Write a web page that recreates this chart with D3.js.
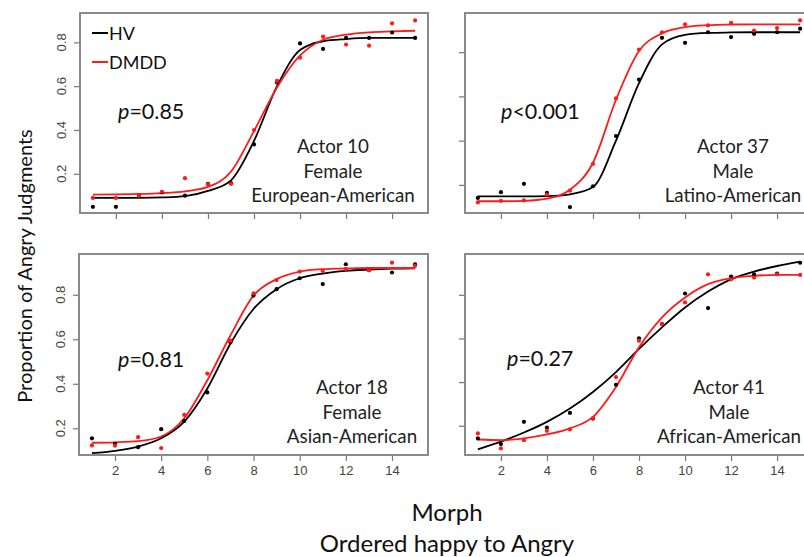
<!DOCTYPE html>
<html>
<head>
<meta charset="utf-8">
<script src="https://cdn.jsdelivr.net/npm/d3@7"></script>
<style>
  body { margin: 0; background: #fff; }
  svg { display: block; font-family: Lato, 'Open Sans', sans-serif; }
  .tick-label { font-family: 'Liberation Sans', Arial, sans-serif; font-size: 13px; fill: #444; }
</style>
</head>
<body>
<div id="chart"></div>
<script>
// Chart data

const morphs = [1, 2, 3, 4, 5, 6, 7, 8, 9, 10, 11, 12, 13, 14, 15]
const xTicks = [2, 4, 6, 8, 10, 12, 14]
const yTicks = [0.2, 0.4, 0.6, 0.8]

// Actor 10 — observed proportions and fitted curves
const hv10 = [0.049, 0.049, 0.10, 0.115, 0.10, 0.154, 0.157, 0.334, 0.617, 0.795, 0.77, 0.82, 0.82, 0.845, 0.82]
const dmdd10 = [0.09, 0.09, 0.10, 0.118, 0.18, 0.152, 0.154, 0.40, 0.624, 0.73, 0.826, 0.79, 0.785, 0.887, 0.90]
const hvFit10 = [0.09, 0.09, 0.09, 0.092, 0.098, 0.122, 0.17, 0.35, 0.60, 0.765, 0.805, 0.815, 0.82, 0.82, 0.82]
const dmddFit10 = [0.105, 0.106, 0.108, 0.112, 0.12, 0.14, 0.21, 0.395, 0.594, 0.74, 0.812, 0.835, 0.846, 0.85, 0.853]

// Actor 37
const hv37 = [0.141, 0.167, 0.205, 0.164, 0.10, 0.194, 0.421, 0.676, 0.865, 0.842, 0.89, 0.868, 0.883, 0.89, 0.906]
const dmdd37 = [0.121, 0.128, 0.13, 0.156, 0.174, 0.295, 0.591, 0.812, 0.89, 0.926, 0.921, 0.932, 0.898, 0.909, 0.944]
const hvFit37 = [0.148, 0.148, 0.148, 0.149, 0.157, 0.19, 0.40, 0.66, 0.835, 0.878, 0.887, 0.889, 0.89, 0.89, 0.89]
const dmddFit37 = [0.126, 0.126, 0.128, 0.138, 0.178, 0.30, 0.585, 0.805, 0.885, 0.913, 0.922, 0.925, 0.926, 0.926, 0.926]

// Actor 18
const hv18 = [0.155, 0.13, 0.115, 0.196, 0.233, 0.361, 0.587, 0.796, 0.825, 0.874, 0.848, 0.937, 0.91, 0.90, 0.937]
const dmdd18 = [0.123, 0.122, 0.16, 0.111, 0.26, 0.446, 0.594, 0.806, 0.866, 0.904, 0.907, 0.915, 0.91, 0.944, 0.93]
const hvFit18 = [0.088, 0.099, 0.118, 0.155, 0.23, 0.379, 0.58, 0.736, 0.825, 0.874, 0.895, 0.907, 0.913, 0.917, 0.919]
const dmddFit18 = [0.135, 0.137, 0.142, 0.163, 0.245, 0.416, 0.617, 0.796, 0.87, 0.904, 0.915, 0.918, 0.92, 0.92, 0.92]

// Actor 41
const hv41 = [0.142, 0.116, 0.218, 0.192, 0.259, 0.233, 0.388, 0.601, 0.666, 0.806, 0.739, 0.884, 0.894, 0.897, 0.947]
const dmdd41 = [0.165, 0.096, 0.134, 0.177, 0.183, 0.235, 0.423, 0.59, 0.666, 0.765, 0.894, 0.871, 0.879, 0.894, 0.891]
const hvFit41 = [0.092, 0.127, 0.169, 0.218, 0.279, 0.355, 0.446, 0.552, 0.651, 0.742, 0.815, 0.871, 0.906, 0.932, 0.952]
const dmddFit41 = [0.137, 0.134, 0.142, 0.16, 0.188, 0.241, 0.378, 0.56, 0.697, 0.788, 0.849, 0.876, 0.887, 0.891, 0.891]

const groups = ['HV', 'DMDD']
const groupColors = ['#000000', '#ff1a1a']

const panels = [
  { actor: 'Actor 10', sex: 'Female', ethnicity: 'European-American', p: '=0.85',
    obs: [hv10, dmdd10], fit: [hvFit10, dmddFit10],
    box: [80, 428, 13, 213], yDomain: [0.021, 0.934], left: true, bottom: false,
    pPos: [118, 119], infoX: 333, infoY: 153, legend: true },
  { actor: 'Actor 37', sex: 'Male', ethnicity: 'Latino-American', p: '<0.001',
    obs: [hv37, dmdd37], fit: [hvFit37, dmddFit37],
    box: [465, 813, 13, 213], yDomain: [0.073, 0.977], left: false, bottom: false,
    pPos: [501, 119], infoX: 733, infoY: 153 },
  { actor: 'Actor 18', sex: 'Female', ethnicity: 'Asian-American', p: '=0.81',
    obs: [hv18, dmdd18], fit: [hvFit18, dmddFit18],
    box: [79, 428, 254, 455], yDomain: [0.08, 0.983], left: true, bottom: true,
    pPos: [118, 367], infoX: 352, infoY: 394 },
  { actor: 'Actor 41', sex: 'Male', ethnicity: 'African-American', p: '=0.27',
    obs: [hv41, dmdd41], fit: [hvFit41, dmddFit41],
    box: [465, 813, 254, 455], yDomain: [0.066, 0.987], left: false, bottom: true,
    pPos: [507, 366], infoX: 729, infoY: 394 }
]

const width = 804
const height = 557

const svg = d3.select('#chart')
  .append('svg')
  .attr('width', width)
  .attr('height', height)

panels.forEach(pan => {
  const [x0, x1, y0, y1] = pan.box
  const x = d3.scaleLinear().domain([0.44, 15.56]).range([x0, x1])
  const y = d3.scaleLinear().domain(pan.yDomain).range([y1, y0])
  const g = svg.append('g')

  // x axis ticks (labels only on bottom row)
  const xAxis = d3.axisBottom(x).tickValues(xTicks).tickSize(6).tickPadding(5)
    .tickFormat(pan.bottom ? d3.format('d') : '')
  const gx = g.append('g').attr('transform', `translate(0,${y1})`).call(xAxis)
  gx.select('.domain').remove()
  gx.selectAll('line').attr('stroke', '#777').attr('stroke-width', 1.2)
  gx.selectAll('text').attr('class', 'tick-label').attr('fill', '#444')

  // y axis ticks (labels only on left column)
  const yAxis = d3.axisLeft(y).tickValues(yTicks).tickSize(6).tickFormat('')
  const gy = g.append('g').attr('transform', `translate(${x0},0)`).call(yAxis)
  gy.select('.domain').remove()
  gy.selectAll('line').attr('stroke', '#777').attr('stroke-width', 1.2)
  if (pan.left) {
    g.selectAll('.ylab')
      .data(yTicks)
      .enter().append('text')
      .attr('class', 'tick-label')
      .attr('text-anchor', 'middle')
      .attr('transform', d => `translate(${x0 - 14},${y(d)}) rotate(-90)`)
      .text(d3.format('.1f'))
  }

  // frame
  g.append('rect')
    .attr('x', x0).attr('y', y0)
    .attr('width', x1 - x0).attr('height', y1 - y0)
    .attr('fill', 'none').attr('stroke', '#8a8a8a').attr('stroke-width', 2)

  const line = d3.line()
    .x((d, i) => x(morphs[i]))
    .y(d => y(d))
    .curve(d3.curveMonotoneX)

  groups.forEach((grp, gi) => {
    g.append('path')
      .datum(pan.fit[gi])
      .attr('d', line)
      .attr('fill', 'none')
      .attr('stroke', groupColors[gi])
      .attr('stroke-width', 1.8)
  })

  groups.forEach((grp, gi) => {
    g.selectAll(`.pt${gi}`)
      .data(pan.obs[gi])
      .enter().append('circle')
      .attr('cx', (d, i) => x(morphs[i]))
      .attr('cy', d => y(d))
      .attr('r', 2.1)
      .attr('fill', groupColors[gi])
  })

  // p-value
  const pt = g.append('text')
    .attr('x', pan.pPos[0]).attr('y', pan.pPos[1])
    .attr('font-size', 21.5).attr('fill', '#111')
  pt.append('tspan').attr('font-style', 'italic').text('p')
  pt.append('tspan').text(pan.p)

  // actor info
  g.selectAll('.info')
    .data([pan.actor, pan.sex, pan.ethnicity])
    .enter().append('text')
    .attr('x', pan.infoX)
    .attr('y', (d, i) => pan.infoY + i * 24.5)
    .attr('text-anchor', 'middle')
    .attr('font-size', 18.8)
    .attr('fill', '#222')
    .text(d => d)

  if (pan.legend) {
    groups.forEach((grp, gi) => {
      const ly = 33 + gi * 29
      g.append('line')
        .attr('x1', 92).attr('x2', 108).attr('y1', ly).attr('y2', ly)
        .attr('stroke', groupColors[gi]).attr('stroke-width', 2)
      g.append('text')
        .attr('x', 109).attr('y', ly + 7)
        .attr('font-size', 18).attr('fill', '#111')
        .text(grp)
    })
  }
})

// Axis titles
svg.append('text')
  .attr('transform', 'translate(32,266) rotate(-90)')
  .attr('text-anchor', 'middle')
  .attr('font-size', 20)
  .attr('fill', '#111')
  .text('Proportion of Angry Judgments')

svg.append('text')
  .attr('x', 447).attr('y', 521)
  .attr('text-anchor', 'middle')
  .attr('font-size', 24)
  .attr('fill', '#111')
  .text('Morph')

svg.append('text')
  .attr('x', 447).attr('y', 552)
  .attr('text-anchor', 'middle')
  .attr('font-size', 24)
  .attr('fill', '#111')
  .text('Ordered happy to Angry')
</script>
</body>
</html>
